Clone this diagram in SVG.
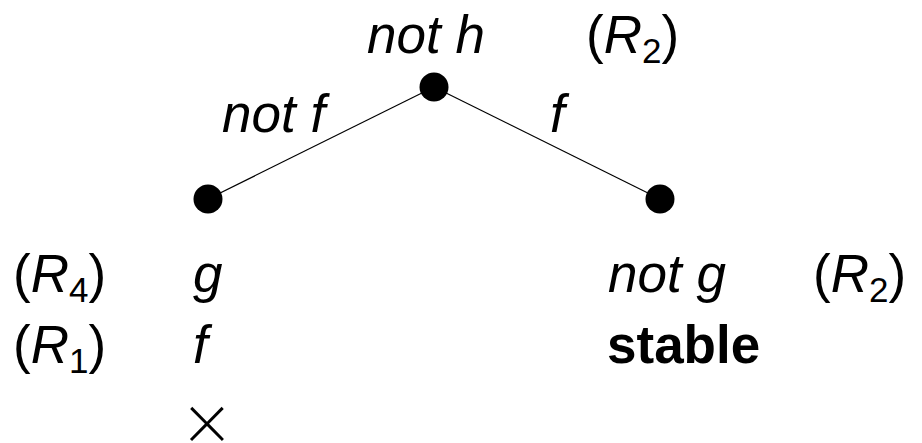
<svg xmlns="http://www.w3.org/2000/svg" width="922" height="443" viewBox="0 0 922 443">
<style>
text{font-family:"Liberation Sans",Arial,sans-serif;font-size:53px;fill:#000}
.i{font-style:italic}
.b{font-weight:bold}
.sub{font-size:35px;font-style:normal}
.dot{fill:#000}
.edge{stroke:#000;stroke-width:1.2;fill:none}
.x{font-family:Lato,"Liberation Sans",sans-serif;font-weight:300;font-size:80px}
</style>
<rect width="922" height="443" fill="#fff"/>
<g id="connectors">
<line class="edge" x1="434" y1="87" x2="208" y2="199"/>
<line class="edge" x1="434" y1="87" x2="660" y2="199"/>
<text class="i" x="222" y="132">not f</text>
<text class="i" x="550" y="132">f</text>
</g>
<g id="root">
<circle class="dot" cx="434" cy="87" r="14.5"/>
<text class="i" x="367" y="53">not h</text>
<text x="586" y="53">(<tspan class="i">R</tspan><tspan class="sub" dy="10">2</tspan><tspan dy="-10">)</tspan></text>
</g>
<g id="left">
<circle class="dot" cx="208" cy="199" r="14.5"/>
<text x="13" y="292">(<tspan class="i">R</tspan><tspan class="sub" dy="10">4</tspan><tspan dy="-10">)</tspan></text>
<text class="i" x="193" y="292">g</text>
<text x="13" y="363">(<tspan class="i">R</tspan><tspan class="sub" dy="10">1</tspan><tspan dy="-10">)</tspan></text>
<text class="i" x="193" y="363">f</text>
<text class="x" x="207" y="451" text-anchor="middle">×</text>
</g>
<g id="right">
<circle class="dot" cx="660" cy="199" r="14.5"/>
<text class="i" x="608" y="292">not g</text>
<text x="813" y="292">(<tspan class="i">R</tspan><tspan class="sub" dy="10">2</tspan><tspan dy="-10">)</tspan></text>
<text class="b" x="607" y="363">stable</text>
</g>
</svg>
